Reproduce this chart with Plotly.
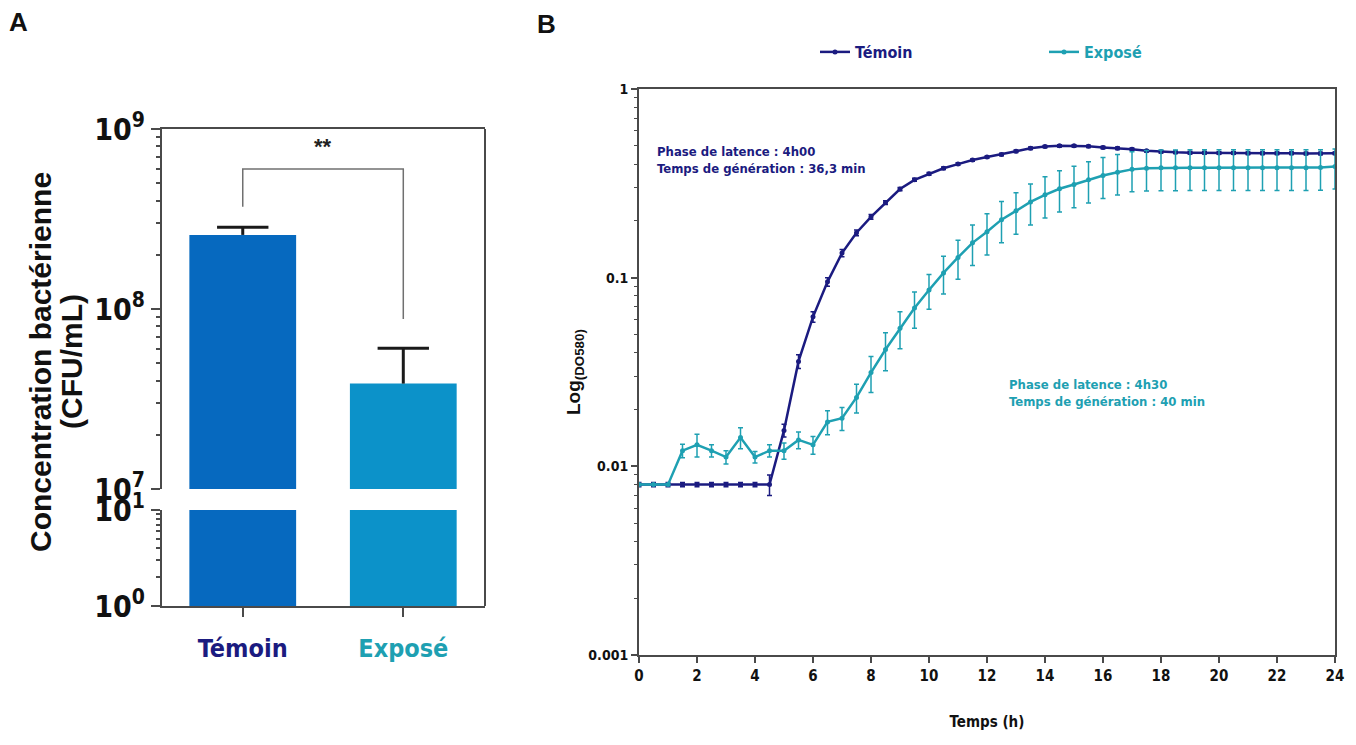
import math
import plotly.graph_objects as go

# ---------------- data ----------------
# Panel A: bacterial concentration (CFU/mL), mean and SEM
groups = ["Témoin", "Exposé"]
cfu_mean = [2.58e8, 3.85e7]
cfu_sem = [2.7e7, 2.2e7]
bracket_top = 6.0e8
bracket_feet = [3.7e8, 8.8e7]

# Panel B: growth curves, OD580 every 30 min
time_h = [0, 0.5, 1, 1.5, 2, 2.5, 3, 3.5, 4, 4.5, 5, 5.5, 6, 6.5, 7, 7.5, 8, 8.5,
          9, 9.5, 10, 10.5, 11, 11.5, 12, 12.5, 13, 13.5, 14, 14.5, 15, 15.5, 16,
          16.5, 17, 17.5, 18, 18.5, 19, 19.5, 20, 20.5, 21, 21.5, 22, 22.5, 23,
          23.5, 24]
od_temoin = [0.008, 0.008, 0.008, 0.008, 0.008, 0.008, 0.008, 0.008, 0.008, 0.008,
             0.0155, 0.036, 0.062, 0.095, 0.135, 0.173, 0.21, 0.25, 0.295, 0.33,
             0.355, 0.38, 0.40, 0.42, 0.436, 0.45, 0.468, 0.485, 0.495, 0.50,
             0.50, 0.497, 0.49, 0.485, 0.48, 0.47, 0.465, 0.462, 0.46, 0.46,
             0.458, 0.458, 0.457, 0.457, 0.456, 0.456, 0.455, 0.455, 0.457]
sd_temoin = [0.0002, 0.0002, 0.0002, 0.0002, 0.0002, 0.0002, 0.0002, 0.0002, 0.0002,
             0.0010, 0.0012, 0.003, 0.004, 0.005, 0.006, 0.006, 0.006, 0.006, 0.006,
             0.006, 0.006, 0.006, 0.006, 0.006, 0.006, 0.007, 0.007, 0.007, 0.007,
             0.007, 0.007, 0.007, 0.007, 0.007, 0.007, 0.007, 0.007, 0.007, 0.007,
             0.007, 0.007, 0.007, 0.007, 0.007, 0.007, 0.007, 0.007, 0.007, 0.007]
od_expose = [0.008, 0.008, 0.008, 0.0121, 0.013, 0.0121, 0.0112, 0.0142, 0.0112, 0.0121,
             0.0121, 0.0138, 0.013, 0.0172, 0.018, 0.0232, 0.0314, 0.0416, 0.054, 0.069,
             0.086, 0.106, 0.128, 0.153, 0.175, 0.203, 0.226, 0.252, 0.275, 0.296,
             0.312, 0.33, 0.348, 0.362, 0.375, 0.38, 0.382, 0.382, 0.383, 0.383,
             0.383, 0.383, 0.383, 0.383, 0.383, 0.383, 0.383, 0.384, 0.388]
sd_expose = [0, 0, 0, 0.0010, 0.0018, 0.0009, 0.0009, 0.0018, 0.0008, 0.0009,
             0.0012, 0.0014, 0.0014, 0.0025, 0.0025, 0.0040, 0.0068, 0.0095, 0.012, 0.015,
             0.018, 0.024, 0.030, 0.037, 0.043, 0.050, 0.056, 0.062, 0.068, 0.073,
             0.077, 0.081, 0.085, 0.088, 0.090, 0.092, 0.093, 0.093, 0.093, 0.093,
             0.093, 0.093, 0.093, 0.093, 0.093, 0.093, 0.093, 0.093, 0.093]

# ---------------- styling ----------------
W, H = 1356, 745
NAVY = "#1b1b80"
TEAL = "#1ea0b2"
BAR_COLORS = ["#0669BF", "#0C92C9"]
LABEL_COLORS = [NAVY, TEAL]
AXIS = "#4a4a4a"
NARROW = "Liberation Sans Narrow, Arial Narrow, DejaVu Sans Condensed, sans-serif"
ARIAL = "Liberation Sans, Arial, sans-serif"
BAR_WIDTH = 0.665
CAP_HALF = 0.16


def fx(p):
    return p / W


def fy(p):
    return 1 - p / H


pos = list(range(len(groups)))

fig = go.Figure()

# Panel A, upper segment of the broken axis (10^7 - 10^9)
fig.add_trace(go.Bar(
    x=pos, y=cfu_mean, width=BAR_WIDTH,
    marker=dict(color=BAR_COLORS, line=dict(width=0)),
    xaxis="x", yaxis="y", showlegend=False, hoverinfo="skip"))

# SEM whiskers (upper side only, as in GraphPad bar charts)
wx, wy = [], []
for i, (m, s) in enumerate(zip(cfu_mean, cfu_sem)):
    wx += [i, i, None, i - CAP_HALF, i + CAP_HALF, None]
    wy += [m, m + s, None, m + s, m + s, None]
fig.add_trace(go.Scatter(
    x=wx, y=wy, mode="lines", line=dict(color="#1a1a1a", width=3),
    xaxis="x", yaxis="y", showlegend=False, hoverinfo="skip"))

# significance bracket
fig.add_trace(go.Scatter(
    x=[pos[0], pos[0], pos[1], pos[1]],
    y=[bracket_feet[0], bracket_top, bracket_top, bracket_feet[1]],
    mode="lines", line=dict(color="#707070", width=1.5),
    xaxis="x", yaxis="y", showlegend=False, hoverinfo="skip"))

# Panel A, lower segment (10^0 - 10^1)
fig.add_trace(go.Bar(
    x=pos, y=cfu_mean, width=BAR_WIDTH,
    marker=dict(color=BAR_COLORS, line=dict(width=0)),
    xaxis="x2", yaxis="y2", showlegend=False, hoverinfo="skip"))

# Panel B growth curves
fig.add_trace(go.Scatter(
    x=time_h, y=od_temoin, mode="lines+markers",
    name=f"<span style='color:{NAVY}'>Témoin</span>",
    line=dict(color=NAVY, width=2.5), marker=dict(color=NAVY, size=5),
    error_y=dict(type="data", array=sd_temoin, color=NAVY, thickness=1.5, width=2.5),
    xaxis="x3", yaxis="y3"))
fig.add_trace(go.Scatter(
    x=time_h, y=od_expose, mode="lines+markers",
    name=f"<span style='color:{TEAL}'>Exposé</span>",
    line=dict(color=TEAL, width=2.5), marker=dict(color=TEAL, size=5),
    error_y=dict(type="data", array=sd_expose, color=TEAL, thickness=1.5, width=2.5),
    xaxis="x3", yaxis="y3"))

minor_A_up = [m * 10 ** e for e in (7, 8) for m in range(2, 10)]
minor_A_low = [m for m in range(2, 10)]
minor_B = [m * 10.0 ** e for e in (-3, -2, -1) for m in range(2, 10)]

tick_font_A = dict(family=NARROW, size=30, color="#111", weight="bold")

fig.update_layout(
    width=W, height=H, margin=dict(l=0, r=0, t=0, b=0, autoexpand=False),
    paper_bgcolor="white", plot_bgcolor="white",
    barmode="overlay",
    xaxis=dict(domain=[fx(162), fx(485)], anchor="y", range=[-0.503, 1.509],
               side="top", showline=True, linecolor=AXIS, linewidth=2, ticks="",
               showticklabels=False, showgrid=False, zeroline=False,
               automargin=False),
    yaxis=dict(domain=[fy(489), fy(129)], anchor="x", type="log", range=[7, 9],
               showline=True, linecolor=AXIS, linewidth=2, ticks="outside",
               ticklen=9, tickwidth=2, tickcolor=AXIS, showgrid=False, zeroline=False,
               tickvals=[1e7, 1e8, 1e9],
               ticktext=["10<sup>7</sup>", "10<sup>8</sup>", "10<sup>9</sup>"],
               tickfont=tick_font_A, automargin=False,
               minor=dict(tickmode="array", tickvals=minor_A_up, ticks="outside",
                          ticklen=4, tickwidth=1.5, tickcolor=AXIS, showgrid=False)),
    xaxis2=dict(domain=[fx(162), fx(485)], anchor="y2", range=[-0.503, 1.509],
                showline=True, linecolor=AXIS, linewidth=2,
                ticks="outside", ticklen=9, tickwidth=2, tickcolor=AXIS,
                tickmode="array", tickvals=pos, ticklabelstandoff=10,
                ticktext=[f"<span style='color:{c}'>{g}</span>"
                          for g, c in zip(groups, LABEL_COLORS)],
                tickfont=dict(family=NARROW, size=25, weight="bold"),
                showgrid=False, zeroline=False, automargin=False),
    yaxis2=dict(domain=[fy(606), fy(510)], anchor="x2", type="log", range=[0, 1],
                showline=True, linecolor=AXIS, linewidth=2, ticks="outside",
                ticklen=9, tickwidth=2, tickcolor=AXIS, showgrid=False, zeroline=False,
                tickvals=[1, 10], ticktext=["10<sup>0</sup>", "10<sup>1</sup>"],
                tickfont=tick_font_A, automargin=False,
                minor=dict(tickmode="array", tickvals=minor_A_low, ticks="outside",
                           ticklen=4, tickwidth=1.5, tickcolor=AXIS, showgrid=False)),
    xaxis3=dict(domain=[fx(639), fx(1335)], anchor="y3", range=[0, 24], dtick=2,
                tick0=0, showline=True, mirror=True, linecolor=AXIS, linewidth=2,
                ticks="outside", ticklen=6, tickwidth=1.5, tickcolor=AXIS,
                tickfont=dict(family=NARROW, size=15, color="#111", weight="bold"),
                title=dict(text="Temps (h)", standoff=32,
                           font=dict(family=NARROW, size=15, color="#111",
                                     weight="bold")),
                showgrid=False, zeroline=False, automargin=False),
    yaxis3=dict(domain=[fy(655), fy(89)], anchor="x3", type="log", range=[-3, 0],
                showline=True, mirror=True, linecolor=AXIS, linewidth=2,
                ticks="outside", ticklen=6, tickwidth=1.5, tickcolor=AXIS,
                tickvals=[0.001, 0.01, 0.1, 1], ticktext=["0.001", "0.01", "0.1", "1"],
                tickfont=dict(family=NARROW, size=14, color="#111", weight="bold"),
                minor=dict(tickmode="array", tickvals=minor_B, ticks="outside",
                           ticklen=3, tickwidth=1, tickcolor=AXIS, showgrid=False),
                showgrid=False, zeroline=False, automargin=False),
    legend=dict(orientation="h", x=fx(815), y=fy(52), xanchor="left",
                yanchor="middle", entrywidth=184, entrywidthmode="pixels",
                itemwidth=30, bgcolor="rgba(0,0,0,0)",
                font=dict(family=NARROW, size=16, weight="bold")),
    shapes=[dict(type="line", xref="paper", yref="paper", x0=fx(485), x1=fx(485),
                 y0=fy(129), y1=fy(606), line=dict(color=AXIS, width=2))],
)


def note(text, px, py, size, color="#111", family=ARIAL, angle=0, xanchor="center"):
    return dict(text=text, x=fx(px), y=fy(py), xref="paper", yref="paper",
                xanchor=xanchor, yanchor="middle", align="left", textangle=angle,
                showarrow=False,
                font=dict(family=family, size=size, color=color, weight="bold"))


annotations = [
    note("A", 18, 22, 26),
    note("B", 546, 24, 26),
    note("Concentration bactérienne", 41, 362, 30, angle=-90),
    note("(CFU/mL)", 72, 362, 30, angle=-90),
    dict(text="**", x=0.5, y=math.log10(bracket_top), xref="x", yref="y", yshift=22,
         xanchor="center", yanchor="middle", showarrow=False,
         font=dict(family=ARIAL, size=22, color="#222", weight="bold")),
    note("Log<sub>(DO580)</sub>", 575, 372, 19, angle=-90),
    note("Phase de latence : 4h00<br>Temps de génération : 36,3 min", 655, 160, 13,
         color=NAVY, family=NARROW, xanchor="left"),
    note("Phase de latence : 4h30<br>Temps de génération : 40 min", 1007, 393, 13,
         color=TEAL, family=NARROW, xanchor="left"),
]
fig.update_layout(annotations=annotations)

fig.write_html("out.html")
